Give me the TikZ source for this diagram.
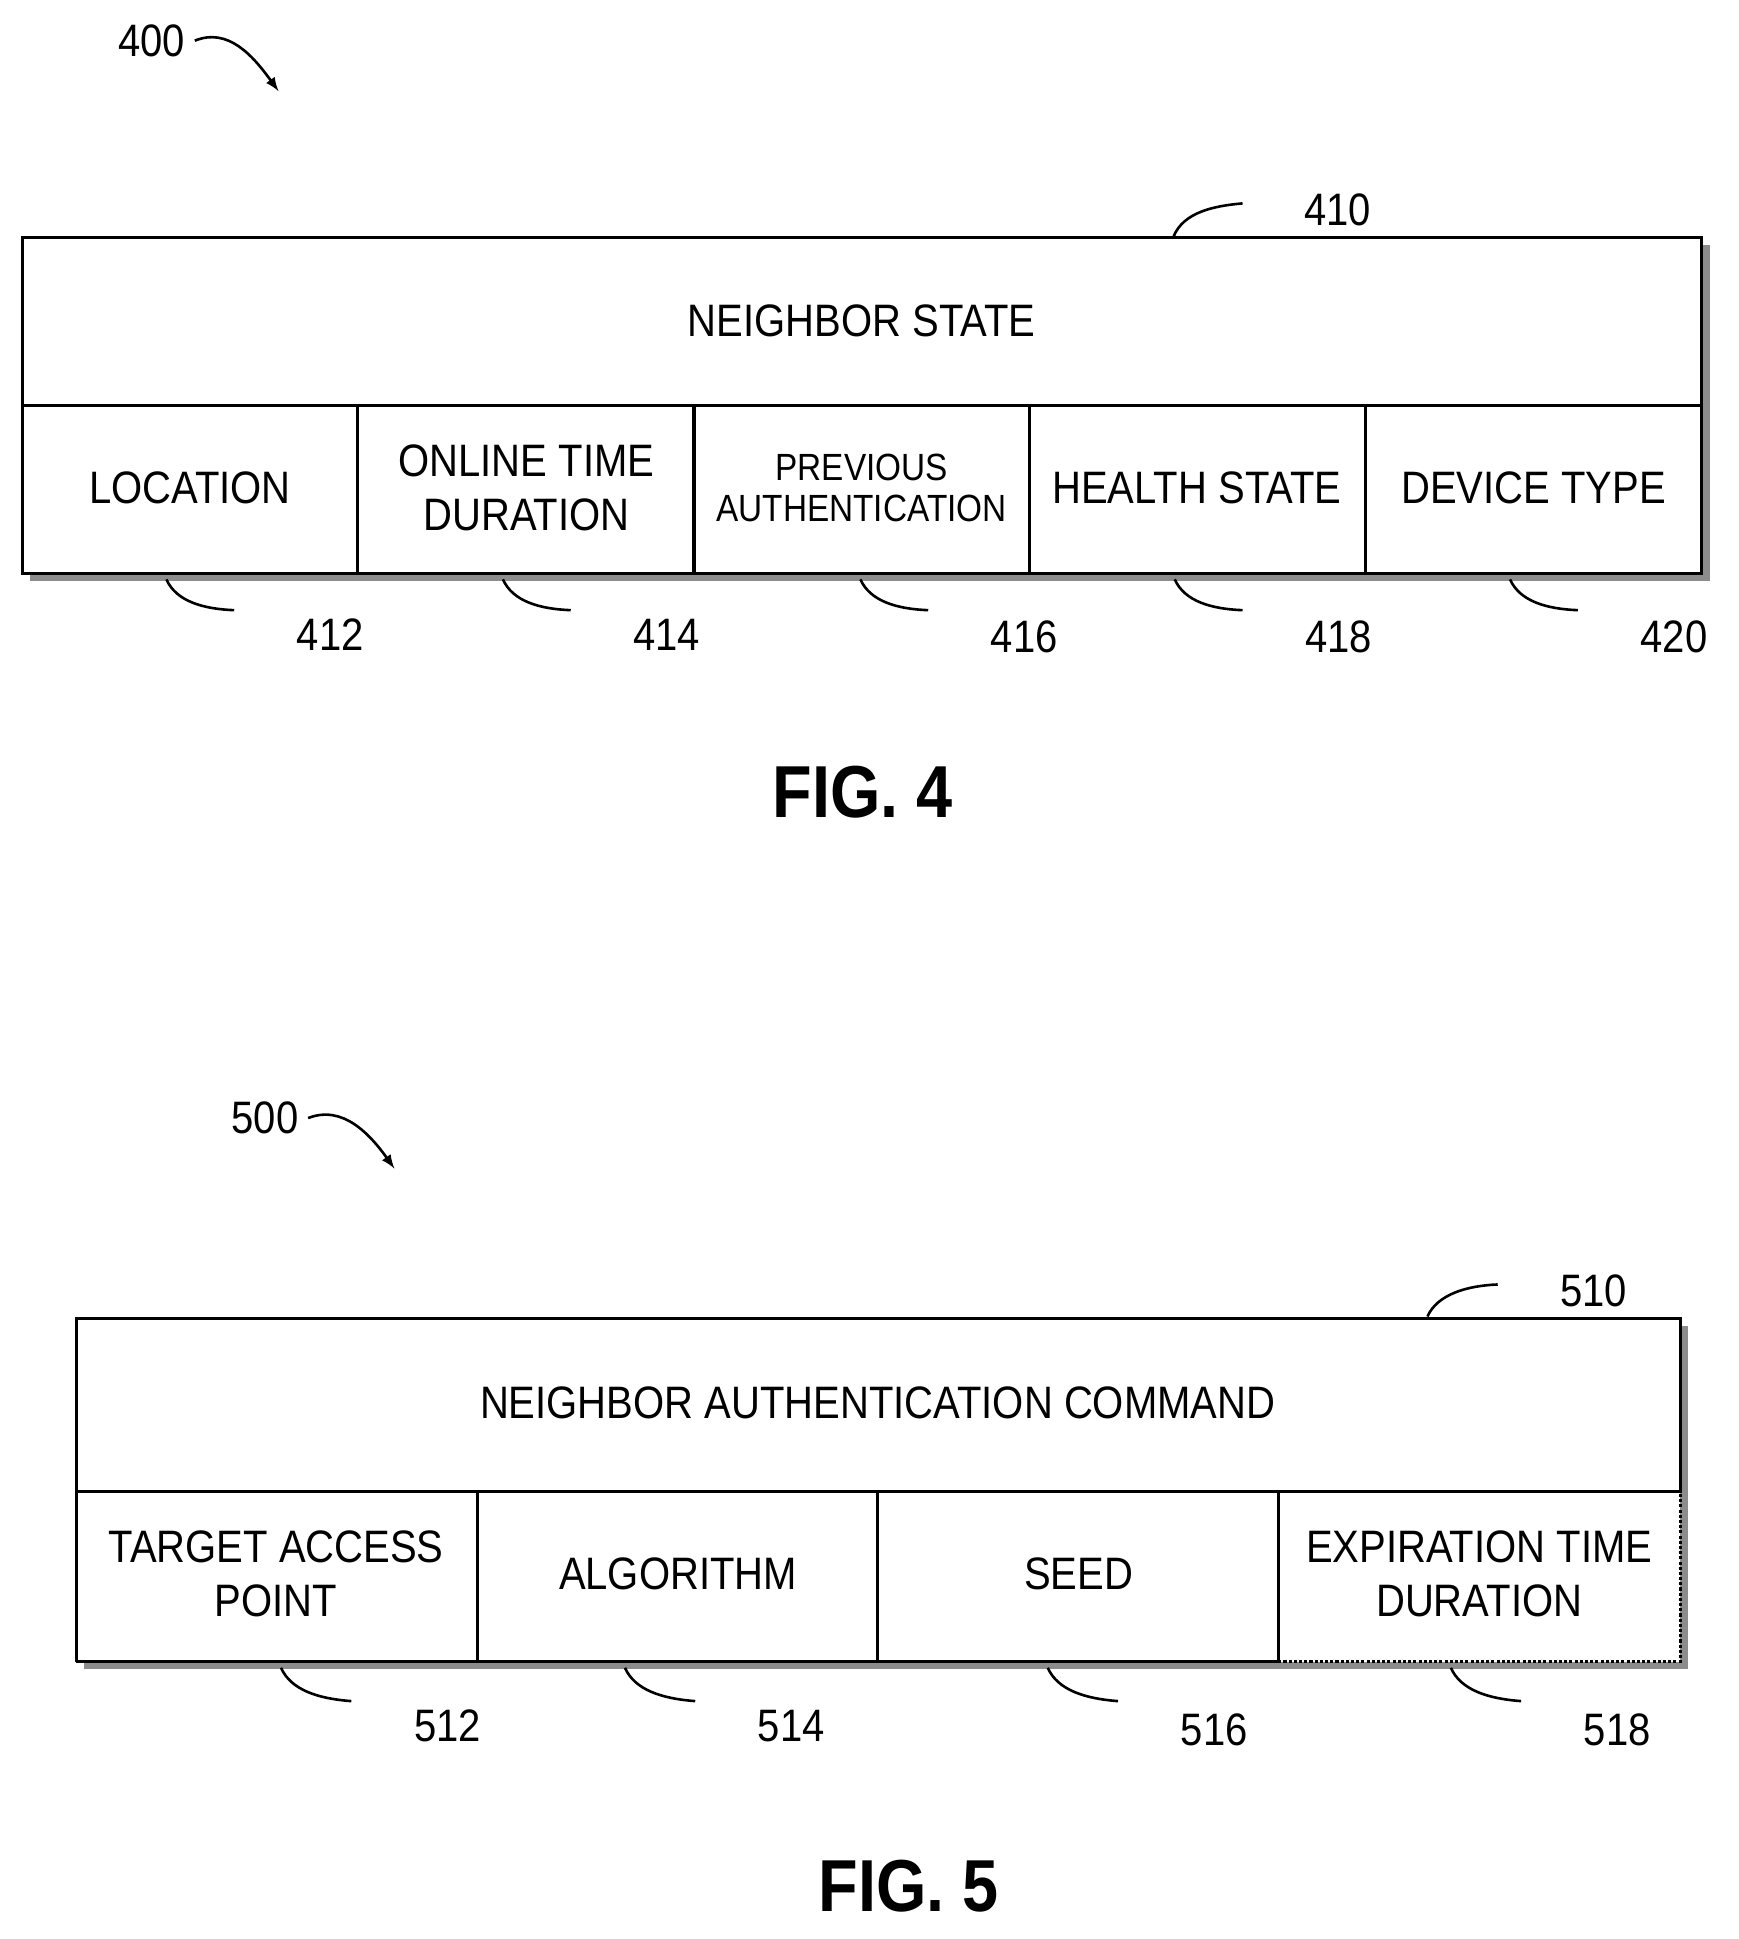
\documentclass[tikz,border=0pt]{standalone}
\usepackage{fontspec}
\setmainfont[FakeStretch=0.88]{Liberation Sans}
\begin{document}
\begin{tikzpicture}[x=0.02cm,y=-0.02cm,
 txt/.style={font=\fontsize{21}{25}\selectfont,align=center,inner sep=0},
 small/.style={font=\fontsize{17.5}{19}\selectfont,align=center,inner sep=0},
 num/.style={font=\fontsize{21}{25}\selectfont,inner sep=0},
 fig/.style={font=\fontsize{34}{40}\selectfont\bfseries,inner sep=0},
 lead/.style={line width=1.2pt},
 box/.style={line width=1.4pt},
 shadow/.style={fill=black!45}]
\useasboundingbox (0,0) rectangle (1410,1573);
% FIG 4
\fill[shadow] (24,199) rectangle (1387,471);
\fill[white] (18,193) rectangle (1380,465);
\draw[box] (18,193) rectangle (1380,465);
\draw[box] (18,329) -- (1380,329);
\foreach \x in {290,563,835,1108} \draw[box] (\x,329) -- (\x,465);
\node[txt] (ns) at (699,260) {NEIGHBOR STATE};
\node[txt] (loc) at (154,396) {LOCATION};
\node[txt] (otd) at (427,396) {ONLINE TIME\\DURATION};
\node[small] (pa) at (699,396) {PREVIOUS\\AUTHENTICATION};
\node[txt] (hs) at (971,396) {HEALTH STATE};
\node[txt] (dt) at (1244,396) {DEVICE TYPE};
\node[num] (n410) at (1085,170) {410};
\draw[lead] (952,192) .. controls (960,172) and (985,167) .. (1008,165);
\foreach \x/\n/\y in {135/412/515,408/414/515,698/416/517,953/418/517,1225/420/517}{
 \node[num] (l\n) at (\x+133,\y) {\n};
 \draw[lead] (\x,470) .. controls (\x+8,488) and (\x+30,494) .. (\x+55,495);
}
\node[num] (n400) at (123,33) {400};
\draw[lead,-latex] (158,33) .. controls (185,22) and (205,45) .. (226,74);
\node[fig] (f4) at (700,643) {FIG. 4};
% FIG 5
\fill[shadow] (68,1076) rectangle (1369,1354);
\fill[white] (62,1070) rectangle (1363,1348);
\draw[box] (62,1348) -- (62,1070) -- (1363,1070) -- (1363,1210);
\draw[box] (62,1348) -- (1037,1348);
\draw[box] (62,1210) -- (1363,1210);
\foreach \x in {387,712,1037} \draw[box] (\x,1210) -- (\x,1348);
\draw[box,densely dotted] (1037,1348) -- (1363,1348) -- (1363,1210);
\node[txt] (nac) at (712,1138) {NEIGHBOR AUTHENTICATION COMMAND};
\node[txt] (tap) at (224,1277) {TARGET ACCESS\\POINT};
\node[txt] (alg) at (550,1277) {ALGORITHM};
\node[txt] (seed) at (875,1277) {SEED};
\node[txt] (etd) at (1200,1277) {EXPIRATION TIME\\DURATION};
\node[num] (n510) at (1293,1047) {510};
\draw[lead] (1158,1068) .. controls (1166,1050) and (1190,1043) .. (1215,1042);
\foreach \x/\n/\y in {228/512/1400,507/514/1400,850/516/1403,1177/518/1403}{
 \node[num] (m\n) at (\x+135,\y) {\n};
 \draw[lead] (\x,1353) .. controls (\x+8,1371) and (\x+30,1378) .. (\x+57,1380);
}
\node[num] (n500) at (215,907) {500};
\draw[lead,-latex] (250,907) .. controls (278,896) and (300,920) .. (320,948);
\node[fig] (f5) at (737,1530) {FIG. 5};
\end{tikzpicture}
\end{document}
